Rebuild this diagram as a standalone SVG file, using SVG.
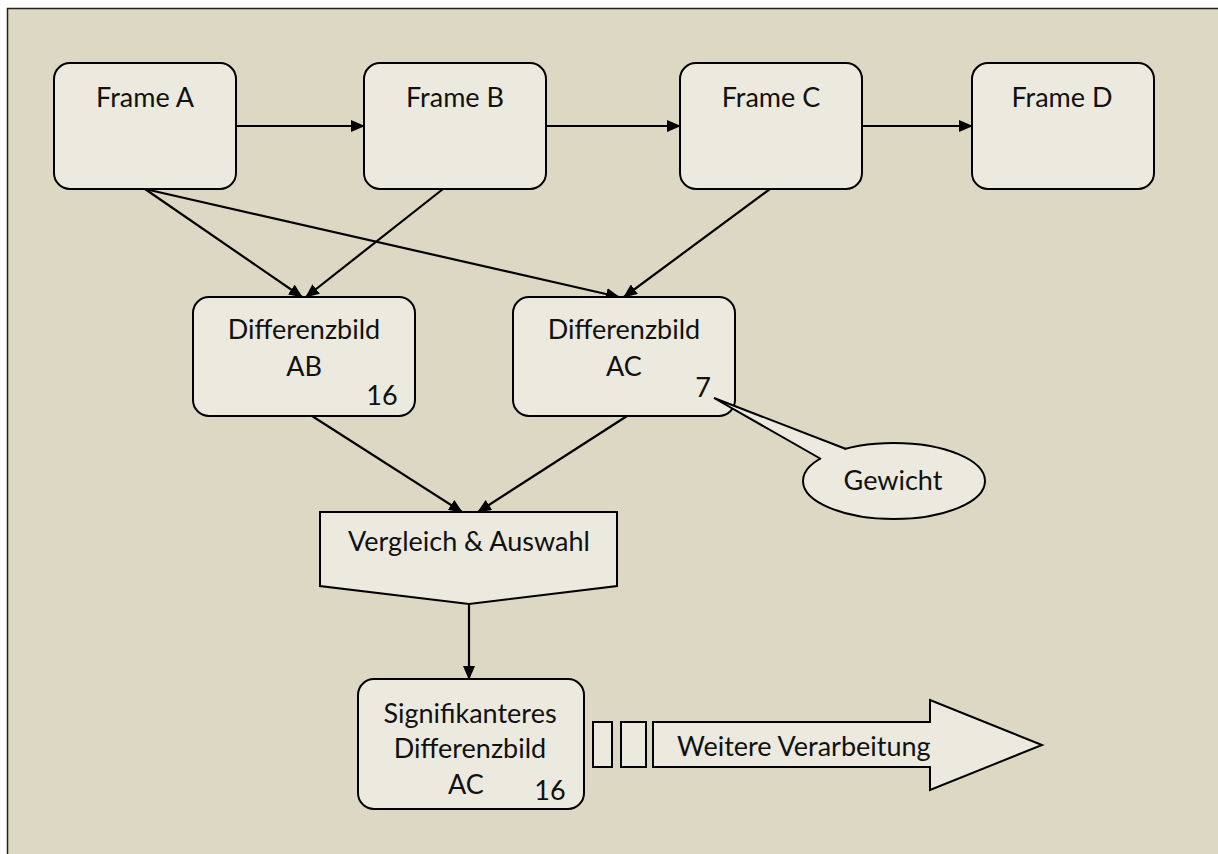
<svg xmlns="http://www.w3.org/2000/svg" width="1218" height="854" viewBox="0 0 1218 854">
  <defs>
    <marker id="arrow" markerWidth="14" markerHeight="12" refX="13" refY="6" orient="auto" markerUnits="userSpaceOnUse">
      <path d="M0,0 L14,6 L0,12 Z" fill="#000"/>
    </marker>
  </defs>
  <style>
    .box { fill: #ECEADF; stroke: #000; stroke-width: 2; }
    .lbl { font-family: Lato, "Open Sans", "Liberation Sans", sans-serif; font-size: 27px; fill: #111; text-anchor: middle; }
    .edge { stroke: #000; stroke-width: 2.2; fill: none; marker-end: url(#arrow); }
  </style>

  <!-- backdrop -->
  <rect x="7.5" y="8.5" width="1220" height="860" fill="#DDD8C3" stroke="#222" stroke-width="1.5"/>

  <!-- connectors -->
  <g id="connectors">
    <line class="edge" x1="236" y1="126" x2="364" y2="126"/>
    <line class="edge" x1="546" y1="126" x2="680" y2="126"/>
    <line class="edge" x1="862" y1="126" x2="972" y2="126"/>
    <line class="edge" x1="145" y1="189" x2="302" y2="297"/>
    <line class="edge" x1="443" y1="189" x2="306" y2="297"/>
    <line class="edge" x1="145" y1="189" x2="619" y2="297"/>
    <line class="edge" x1="770" y1="189" x2="624" y2="297"/>
    <line class="edge" x1="312" y1="416" x2="462" y2="512"/>
    <line class="edge" x1="627" y1="416" x2="478" y2="512"/>
    <line class="edge" x1="469" y1="604" x2="469" y2="679"/>
  </g>

  <g id="frameA">
    <rect class="box" x="54" y="63" width="182" height="126" rx="16"/>
    <text class="lbl" x="145" y="107">Frame A</text>
  </g>
  <g id="frameB">
    <rect class="box" x="364" y="63" width="182" height="126" rx="16"/>
    <text class="lbl" x="455" y="107">Frame B</text>
  </g>
  <g id="frameC">
    <rect class="box" x="680" y="63" width="182" height="126" rx="16"/>
    <text class="lbl" x="771" y="107">Frame C</text>
  </g>
  <g id="frameD">
    <rect class="box" x="972" y="63" width="182" height="126" rx="16"/>
    <text class="lbl" x="1062" y="107">Frame D</text>
  </g>

  <g id="diffAB">
    <rect class="box" x="193" y="297" width="222" height="119" rx="16"/>
    <text class="lbl" x="304" y="339">Differenzbild</text>
    <text class="lbl" x="304" y="376">AB</text>
    <text class="lbl" x="382" y="405">16</text>
  </g>
  <g id="diffAC">
    <rect class="box" x="513" y="297" width="222" height="119" rx="16"/>
    <text class="lbl" x="624" y="339">Differenzbild</text>
    <text class="lbl" x="624" y="376">AC</text>
    <text class="lbl" x="703" y="397">7</text>
  </g>

  <g id="callout">
    <ellipse class="box" cx="894" cy="481" rx="91" ry="38"/>
    <path d="M714,398 L822,460 L846,450 Z" fill="#ECEADF"/>
    <path d="M821,459 L714,398 L846,449" fill="none" stroke="#000" stroke-width="2" stroke-linejoin="miter"/>
    <text class="lbl" x="893" y="490">Gewicht</text>
  </g>

  <g id="compare">
    <path class="box" d="M320,512 L617,512 L617,586 L469,604 L320,586 Z"/>
    <text class="lbl" x="469" y="551">Vergleich &amp; Auswahl</text>
  </g>

  <g id="result">
    <rect class="box" x="358" y="679" width="226" height="130" rx="16"/>
    <text class="lbl" x="470" y="723">Signifikanteres</text>
    <text class="lbl" x="470" y="758">Differenzbild</text>
    <text class="lbl" x="466" y="794">AC</text>
    <text class="lbl" x="550" y="800">16</text>
  </g>

  <g id="further">
    <rect class="box" x="593" y="722" width="19" height="45"/>
    <rect class="box" x="621" y="722" width="25" height="45"/>
    <path class="box" d="M653,722 L930,722 L930,700 L1042,745 L930,790 L930,767 L653,767 Z"/>
    <text class="lbl" x="677" y="756" style="text-anchor:start">Weitere Verarbeitung</text>
  </g>
</svg>
